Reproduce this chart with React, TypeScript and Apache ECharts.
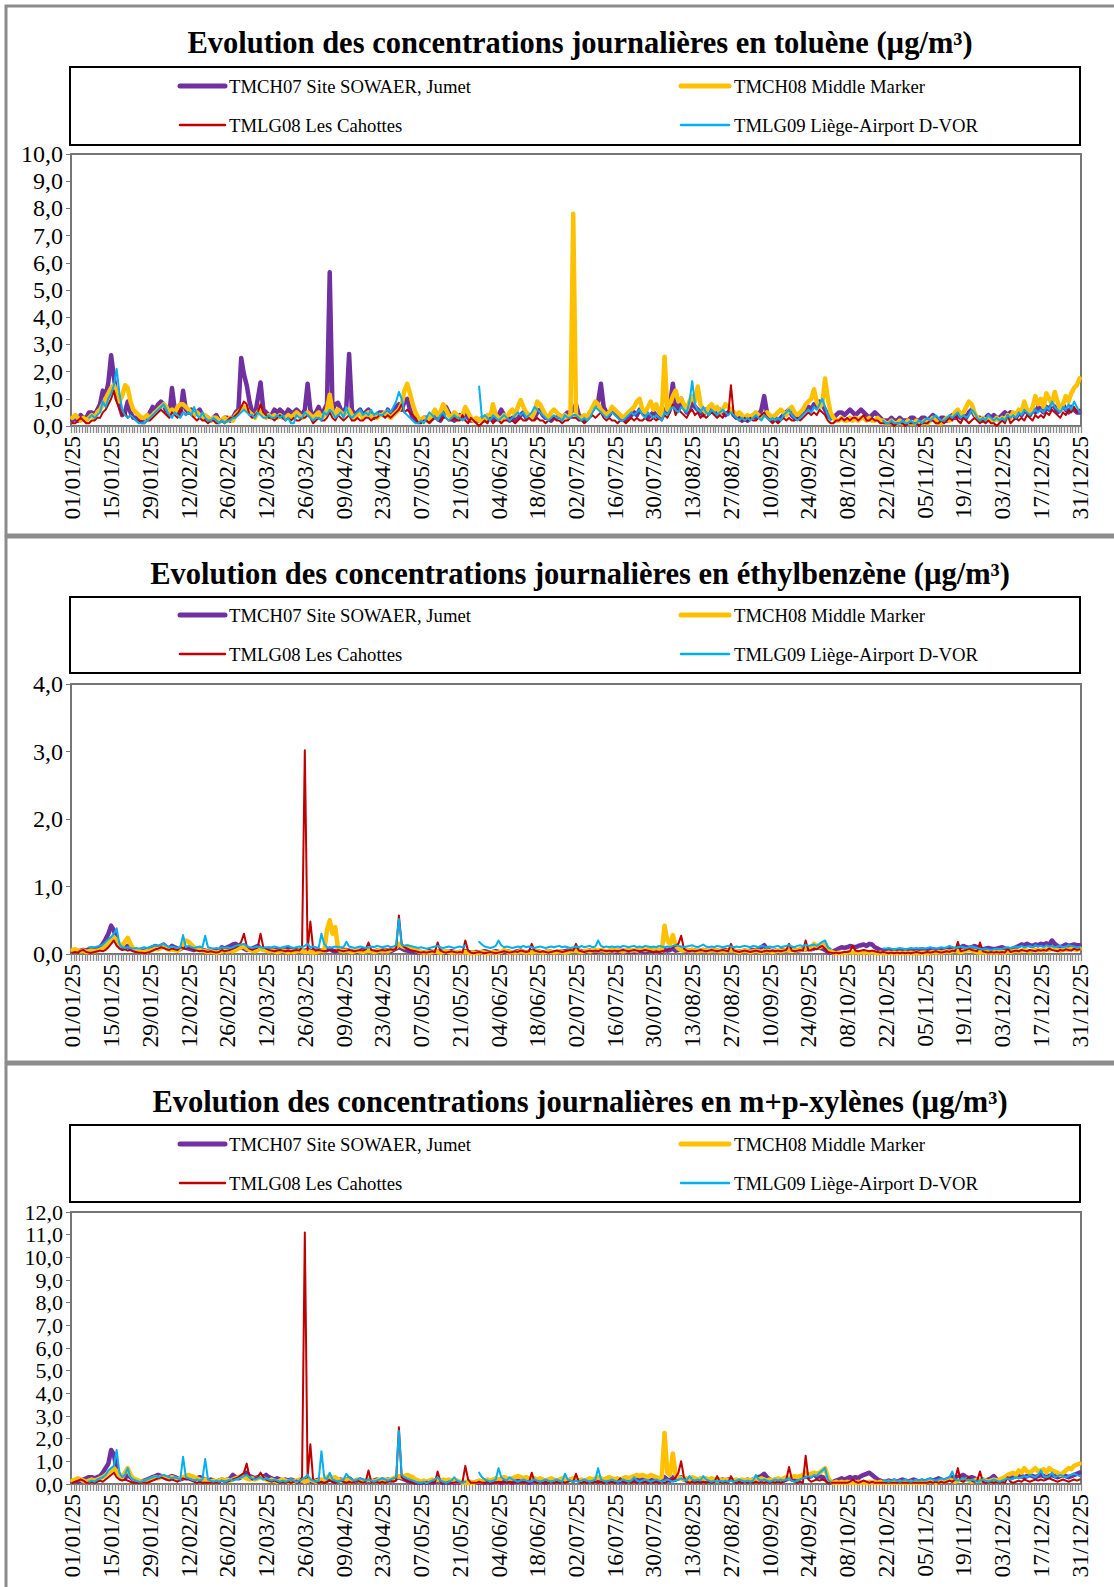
import React, { useEffect, useRef } from 'react';
import * as echarts from 'echarts';

const N = null;

const SERIES_NAMES = ['TMCH07 Site SOWAER, Jumet', 'TMCH08 Middle Marker', 'TMLG08 Les Cahottes', 'TMLG09 Liège-Airport D-VOR'];
const SERIES_COLORS = ['#7030A0', '#FFC000', '#C00000', '#00B0F0'];
const SERIES_WIDTHS = [4.5, 4.5, 2, 2];
const TITLES = [
  'Evolution des concentrations journalières en toluène (µg/m³)',
  'Evolution des concentrations journalières en éthylbenzène (µg/m³)',
  'Evolution des concentrations journalières en m+p-xylènes (µg/m³)',
];
const Y_MAX = [10, 4, 12];

// daily categories 01/01/25 .. 31/12/25
const DAYS: string[] = [];
for (let i = 0; i < 365; i++) {
  const d = new Date(Date.UTC(2025, 0, 1 + i));
  const dd = String(d.getUTCDate()).padStart(2, '0');
  const mm = String(d.getUTCMonth() + 1).padStart(2, '0');
  DAYS.push(`${dd}/${mm}/25`);
}

// ---------- Toluène ----------
const TOL_TMCH07 = [
  0.2,0.3,0.2,0.4,0.3,0.3,0.5,0.5,0.4,0.6,0.8,1.3,1.1,1.6,
  2.6,1.8,1.0,0.8,0.4,0.5,0.9,0.5,0.3,0.3,0.3,0.2,0.3,0.3,
  0.5,0.7,0.6,0.8,0.9,0.8,0.5,0.4,1.4,0.6,0.5,0.4,1.3,0.6,
  0.5,0.6,0.4,0.5,0.6,0.4,0.3,0.3,0.2,0.3,0.4,0.2,0.2,0.3,
  0.3,0.2,0.3,0.5,0.6,2.5,1.9,1.5,0.9,0.5,0.4,1.0,1.6,0.6,
  0.5,0.4,0.4,0.6,0.5,0.6,0.5,0.4,0.6,0.5,0.5,0.6,0.5,0.4,
  0.6,1.55,0.6,0.3,0.5,0.7,0.4,0.6,0.8,5.65,0.6,0.8,0.85,0.6,
  0.5,0.7,2.65,0.6,0.4,0.5,0.6,0.4,0.5,0.6,0.4,0.3,0.4,0.5,
  0.5,0.4,0.6,0.4,0.5,0.7,0.8,0.6,0.9,1.0,0.6,0.3,0.2,0.2,
  0.2,0.3,0.3,0.2,0.3,0.5,0.3,0.2,0.4,0.7,0.5,0.3,0.2,0.3,
  0.4,0.3,0.5,0.3,0.2,0.2,0.2,0.2,0.3,0.2,0.3,0.3,0.2,0.3,
  0.4,0.6,0.4,0.3,0.2,0.3,0.2,0.3,0.4,0.5,0.3,0.4,0.3,0.3,
  0.5,0.6,0.4,0.3,0.3,0.2,0.3,0.3,0.4,0.3,0.4,0.5,0.5,0.6,
  0.8,0.4,0.3,0.2,0.3,0.5,0.6,0.8,0.9,1.55,0.7,0.5,0.4,0.6,
  0.5,0.4,0.3,0.3,0.2,0.3,0.4,0.5,0.4,0.6,0.5,0.4,0.3,0.4,
  0.5,0.4,0.3,0.4,0.6,0.5,0.8,1.55,0.8,0.6,1.0,0.7,0.5,0.6,
  0.9,0.7,0.6,0.5,0.4,0.6,0.5,0.7,0.5,0.4,0.6,0.5,0.4,0.5,
  0.6,0.4,0.3,0.3,0.2,0.3,0.2,0.3,0.4,0.3,0.4,0.6,1.1,0.5,
  0.3,0.2,0.3,0.2,0.3,0.4,0.5,0.6,0.4,0.3,0.3,0.4,0.5,0.6,
  0.7,0.6,0.8,0.7,0.9,0.8,0.6,0.4,0.3,0.3,0.4,0.5,0.5,0.4,
  0.5,0.6,0.5,0.4,0.5,0.6,0.5,0.4,0.3,0.4,0.5,0.4,0.3,0.2,
  0.2,0.2,0.3,0.2,0.2,0.3,0.2,0.2,0.2,0.3,0.3,0.2,0.2,0.3,
  0.3,0.2,0.3,0.4,0.3,0.2,0.3,0.3,0.2,0.3,0.4,0.3,0.4,0.3,
  0.4,0.3,0.5,0.6,0.4,0.3,0.3,0.2,0.3,0.4,0.3,0.4,0.3,0.3,
  0.4,0.5,0.4,0.5,0.4,0.3,0.5,0.4,0.6,0.5,0.4,0.6,0.5,0.7,
  0.6,0.5,0.7,0.6,0.8,0.7,0.5,0.6,0.8,0.6,0.5,0.7,0.6,0.5,
  0.5,
];
const TOL_TMCH08 = [
  0.3,0.4,0.3,0.2,0.3,0.2,0.3,0.4,0.3,0.5,0.6,0.8,1.0,1.2,
  1.4,1.5,1.2,0.9,1.1,1.5,1.4,0.9,0.6,0.5,0.4,0.3,0.3,0.4,
  0.3,0.4,0.5,0.6,0.7,0.8,0.7,0.5,0.6,0.5,0.7,0.8,0.8,0.7,
  0.6,0.5,0.4,0.5,0.4,0.3,0.4,0.3,0.2,0.3,0.3,0.2,0.2,0.3,
  0.2,0.3,0.2,0.4,0.5,0.6,0.7,0.6,0.5,0.4,0.3,0.5,0.6,0.4,
  0.3,0.4,0.3,0.4,0.3,0.4,0.3,0.3,0.4,0.3,0.4,0.5,0.4,0.3,
  0.4,0.5,0.4,0.3,0.4,0.5,0.3,0.4,0.6,1.15,0.5,0.4,0.6,0.5,
  0.4,0.5,0.6,0.4,0.3,0.4,0.5,0.3,0.4,0.5,0.3,0.4,0.3,0.4,
  0.4,0.5,0.4,0.3,0.4,0.5,0.6,0.8,1.3,1.55,1.2,0.8,0.5,0.3,
  0.2,0.3,0.2,0.3,0.4,0.6,0.4,0.5,0.8,0.6,0.4,0.3,0.5,0.4,
  0.3,0.4,0.7,0.5,0.3,0.2,0.3,0.2,0.3,0.2,0.4,0.3,0.8,0.4,
  0.3,0.2,0.4,0.3,0.5,0.6,0.4,0.7,0.95,0.7,0.5,0.4,0.3,0.5,
  0.9,0.8,0.6,0.4,0.3,0.5,0.6,0.5,0.4,0.3,0.4,0.3,0.4,7.8,
  0.4,0.3,0.3,0.4,0.3,0.5,0.7,0.9,0.8,0.6,0.5,0.4,0.5,0.7,
  0.6,0.5,0.4,0.3,0.4,0.5,0.6,0.7,0.9,1.0,0.6,0.5,0.7,0.9,
  0.6,0.8,0.5,0.4,2.55,0.6,0.8,1.1,1.3,0.9,1.0,0.8,0.6,0.9,
  1.1,0.9,1.45,0.8,0.6,0.5,0.7,0.8,0.6,0.7,0.5,0.6,0.8,0.7,
  0.6,0.5,0.4,0.5,0.4,0.3,0.4,0.3,0.4,0.5,0.4,0.3,0.4,0.5,
  0.4,0.3,0.4,0.5,0.6,0.5,0.4,0.6,0.7,0.5,0.4,0.5,0.6,0.8,
  0.9,1.0,1.35,0.9,0.7,0.8,1.75,1.0,0.5,0.3,0.2,0.2,0.3,0.2,
  0.2,0.3,0.2,0.3,0.2,0.3,0.3,0.2,0.3,0.2,0.2,0.3,0.2,0.2,
  0.1,0.1,0.2,0.1,0.1,0.2,0.1,0.1,0.2,0.1,0.1,0.2,0.1,0.1,
  0.2,0.1,0.2,0.3,0.2,0.1,0.1,0.2,0.3,0.2,0.3,0.5,0.6,0.4,
  0.5,0.7,0.9,0.8,0.5,0.3,0.2,0.3,0.2,0.3,0.2,0.2,0.3,0.2,
  0.3,0.2,0.4,0.3,0.5,0.4,0.6,0.5,0.9,0.6,0.5,0.7,1.1,0.8,
  1.0,0.7,1.2,1.0,0.8,1.25,0.9,0.6,0.8,1.1,0.9,1.2,1.4,1.5,
  1.75,
];
const TOL_TMLG08 = [
  0.1,0.1,0.2,0.3,0.2,0.1,0.1,0.2,0.2,0.3,0.3,0.5,0.6,0.8,
  1.0,1.3,0.9,0.6,0.4,0.5,0.3,0.4,0.3,0.2,0.2,0.1,0.1,0.2,
  0.2,0.3,0.4,0.5,0.6,0.5,0.4,0.3,0.5,0.4,0.3,0.6,0.5,0.4,
  0.5,0.4,0.3,0.2,0.3,0.2,0.2,0.1,0.2,0.2,0.1,0.1,0.2,0.1,
  0.2,0.3,0.3,0.4,0.5,0.7,0.9,0.8,0.4,0.3,0.4,0.5,0.8,0.5,
  0.4,0.3,0.3,0.2,0.3,0.4,0.3,0.2,0.3,0.2,0.3,0.2,0.2,0.3,
  0.3,0.4,0.3,0.1,0.2,0.3,0.2,0.2,0.3,0.5,0.3,0.2,0.4,0.3,
  0.2,0.3,0.4,0.2,0.2,0.3,0.2,0.2,0.3,0.3,0.2,0.3,0.3,0.4,
  0.4,0.3,0.4,0.3,0.4,0.5,0.6,0.8,0.5,0.6,0.5,0.4,0.3,0.1,
  0.1,0.2,0.2,0.1,0.2,0.3,0.2,0.2,0.3,0.3,0.2,0.2,0.3,0.2,
  0.2,0.4,0.2,0.1,0.3,0.2,0.1,0.0,0.1,0.2,0.1,0.3,0.1,0.2,
  0.2,0.1,0.2,0.2,0.3,0.2,0.1,0.2,0.3,0.2,0.2,0.3,0.2,0.2,
  0.3,0.2,0.2,0.1,0.2,0.2,0.3,0.2,0.2,0.1,0.2,0.2,0.3,0.3,
  0.3,0.2,0.2,0.1,0.2,0.3,0.4,0.3,0.4,0.5,0.3,0.2,0.3,0.2,
  0.2,0.1,0.2,0.2,0.1,0.2,0.3,0.2,0.3,0.2,0.2,0.3,0.2,0.2,
  0.3,0.2,0.3,0.2,0.4,0.3,0.5,0.8,0.4,0.6,0.5,0.4,0.3,0.5,
  0.6,0.4,0.5,0.3,0.4,0.3,0.4,0.5,0.4,0.3,0.4,0.3,0.5,0.4,
  1.5,0.4,0.3,0.2,0.2,0.3,0.2,0.3,0.2,0.2,0.3,0.4,0.5,0.3,
  0.2,0.1,0.2,0.1,0.2,0.3,0.2,0.3,0.2,0.2,0.3,0.2,0.3,0.4,
  0.5,0.4,0.5,0.4,0.6,0.5,0.4,0.2,0.1,0.1,0.2,0.2,0.3,0.2,
  0.3,0.2,0.3,0.3,0.2,0.3,0.4,0.2,0.2,0.3,0.2,0.2,0.1,0.1,
  0.1,0.1,0.1,0.0,0.1,0.1,0.1,0.0,0.1,0.1,0.1,0.1,0.0,0.1,
  0.1,0.1,0.2,0.2,0.1,0.1,0.2,0.1,0.2,0.3,0.2,0.4,0.2,0.1,
  0.3,0.2,0.1,0.2,0.3,0.2,0.1,0.2,0.1,0.2,0.1,0.1,0.0,0.1,
  0.2,0.1,0.4,0.1,0.2,0.3,0.2,0.3,0.2,0.4,0.3,0.2,0.4,0.3,
  0.4,0.3,0.5,0.4,0.6,0.5,0.4,0.3,0.5,0.4,0.6,0.5,0.7,0.5,
  0.6,
];
const TOL_TMLG09 = [
  N,N,N,N,N,N,0.3,0.4,0.3,0.4,0.5,0.9,0.7,1.0,
  1.2,1.5,2.1,1.2,0.6,0.4,0.3,0.4,0.3,0.2,0.1,0.1,0.1,0.2,
  0.3,0.4,0.5,0.6,0.7,0.8,0.6,0.4,0.3,0.5,0.4,0.3,0.5,0.4,
  0.5,0.4,0.7,0.4,0.3,0.5,0.3,0.2,0.2,0.3,0.2,0.1,0.2,0.1,
  0.2,0.2,0.3,0.3,0.4,0.5,0.6,0.5,0.4,0.4,0.3,0.5,0.4,0.3,
  0.3,0.4,0.3,0.3,0.4,0.3,0.4,0.2,0.3,0.1,0.1,0.4,0.3,0.3,
  0.5,0.4,0.3,0.2,0.3,0.3,0.2,0.5,0.4,0.6,0.5,0.3,0.4,0.5,
  0.3,0.7,0.4,0.3,0.4,0.5,0.6,0.4,0.5,0.4,0.6,0.4,0.5,0.4,
  0.4,0.5,0.6,0.5,0.7,0.9,1.25,1.0,0.5,0.4,0.3,0.2,0.1,0.1,
  0.2,0.1,0.3,0.5,0.4,0.3,0.2,0.4,0.5,0.3,0.2,0.3,0.4,0.3,
  0.3,0.2,0.3,N,N,N,N,1.45,0.3,0.4,0.3,0.2,0.4,0.3,
  0.2,0.3,0.4,0.3,0.2,0.3,0.4,0.5,0.4,0.5,0.3,0.4,0.5,0.7,
  0.6,0.5,0.4,0.3,0.2,0.3,0.4,0.3,0.3,0.2,0.4,0.3,0.3,0.4,
  0.4,0.3,0.2,0.3,0.2,0.3,0.5,0.7,0.6,0.5,0.4,0.3,0.4,0.5,
  0.4,0.3,0.2,0.2,0.3,0.4,0.5,0.4,0.5,0.6,0.4,0.3,0.5,0.4,
  0.3,0.4,0.3,0.2,0.5,0.4,0.6,0.7,0.6,0.5,0.7,0.6,0.5,0.9,
  1.65,0.8,0.6,0.5,0.7,0.5,0.4,0.6,0.5,0.4,0.5,0.6,0.5,0.4,
  0.5,0.4,0.3,0.2,0.3,0.2,0.3,0.2,0.3,0.4,0.3,0.2,0.4,0.3,
  0.2,0.3,0.2,0.3,0.2,0.4,0.5,0.6,0.4,0.3,0.2,0.3,0.4,0.5,
  0.6,0.5,0.7,0.6,0.8,1.0,0.7,0.4,0.2,N,N,N,N,N,
  N,N,N,N,N,N,N,N,N,N,N,N,N,0.2,
  0.1,0.1,0.2,0.1,0.1,0.1,0.2,0.1,0.1,0.2,0.1,0.1,0.2,0.1,
  0.2,0.3,0.2,0.3,0.4,0.3,0.2,0.2,0.3,0.4,0.3,0.4,0.5,0.3,
  0.4,0.3,0.4,0.6,0.5,0.3,0.2,0.3,0.2,0.4,0.3,0.2,0.3,0.2,
  0.3,0.2,0.4,0.3,0.4,0.3,0.5,0.4,0.6,0.5,0.4,0.5,0.6,0.5,
  0.6,0.5,0.7,0.6,0.9,0.7,0.6,0.5,0.7,0.6,0.8,0.6,0.9,0.7,
  0.5,
];

// ---------- Éthylbenzène ----------
const ETH_TMCH07 = [
  0.05,0.06,0.04,0.05,0.06,0.05,0.07,0.08,0.06,0.08,0.1,0.15,0.22,0.3,
  0.42,0.35,0.2,0.12,0.08,0.09,0.12,0.08,0.06,0.05,0.05,0.04,0.05,0.06,
  0.08,0.1,0.12,0.1,0.12,0.14,0.1,0.08,0.12,0.1,0.08,0.07,0.1,0.09,
  0.08,0.07,0.06,0.08,0.07,0.06,0.05,0.04,0.05,0.06,0.04,0.05,0.1,0.08,
  0.1,0.12,0.14,0.15,0.12,0.1,0.08,0.06,0.07,0.08,0.1,0.12,0.08,0.07,
  0.06,0.08,0.06,0.05,0.07,0.06,0.05,0.06,0.08,0.07,0.05,0.06,0.05,0.04,
  0.05,0.06,0.05,0.04,0.05,0.06,0.05,0.04,0.06,0.08,0.05,0.04,0.05,0.06,
  0.05,0.06,0.05,0.04,0.03,0.04,0.05,0.06,0.04,0.05,0.04,0.03,0.05,0.04,
  0.05,0.06,0.05,0.04,0.06,0.08,0.1,0.08,0.06,0.05,0.04,0.03,0.03,0.02,
  0.03,0.02,0.03,0.04,0.03,0.02,0.03,0.04,0.03,0.02,0.03,0.04,0.03,0.02,
  0.03,0.02,0.04,0.03,0.02,0.02,0.03,0.02,0.03,0.04,0.03,0.02,0.03,0.04,
  0.03,0.02,0.03,0.04,0.03,0.02,0.03,0.04,0.05,0.03,0.02,0.03,0.04,0.03,
  0.04,0.03,0.02,0.03,0.04,0.03,0.02,0.03,0.04,0.03,0.04,0.05,0.04,0.05,
  0.06,0.05,0.04,0.03,0.04,0.05,0.04,0.03,0.04,0.05,0.04,0.03,0.04,0.05,
  0.04,0.03,0.04,0.05,0.04,0.03,0.04,0.03,0.04,0.05,0.04,0.03,0.04,0.05,
  0.04,0.05,0.04,0.03,0.06,0.05,0.06,0.08,0.05,0.06,0.07,0.05,0.04,0.05,
  0.06,0.05,0.04,0.05,0.06,0.05,0.04,0.05,0.06,0.05,0.04,0.05,0.06,0.05,
  0.06,0.05,0.04,0.03,0.04,0.05,0.04,0.05,0.06,0.05,0.08,0.1,0.13,0.08,
  0.05,0.04,0.05,0.04,0.05,0.06,0.05,0.06,0.07,0.06,0.05,0.06,0.08,0.07,
  0.08,0.07,0.08,0.1,0.09,0.08,0.06,0.03,0.02,0.04,0.06,0.08,0.1,0.09,
  0.1,0.12,0.11,0.1,0.12,0.13,0.14,0.12,0.15,0.14,0.1,0.08,0.06,0.05,
  0.04,0.05,0.04,0.05,0.04,0.05,0.06,0.05,0.04,0.05,0.06,0.05,0.06,0.07,
  0.06,0.05,0.06,0.07,0.06,0.05,0.06,0.07,0.06,0.07,0.08,0.07,0.08,0.1,
  0.12,0.1,0.09,0.1,0.12,0.1,0.08,0.07,0.08,0.09,0.08,0.07,0.08,0.09,
  0.1,0.08,0.07,0.06,0.08,0.1,0.12,0.14,0.13,0.15,0.13,0.12,0.14,0.13,
  0.15,0.14,0.16,0.13,0.2,0.15,0.12,0.1,0.12,0.14,0.12,0.13,0.14,0.13,
  0.13,
];
const ETH_TMCH08 = [
  0.06,0.07,0.05,0.04,0.05,0.03,0.04,0.05,0.04,0.05,0.06,0.08,0.12,0.18,
  0.22,0.25,0.2,0.15,0.12,0.18,0.24,0.15,0.08,0.06,0.04,0.03,0.03,0.04,
  0.05,0.06,0.08,0.07,0.09,0.1,0.08,0.06,0.07,0.06,0.05,0.08,0.15,0.2,
  0.18,0.14,0.1,0.08,0.06,0.05,0.04,0.03,0.04,0.03,0.02,0.03,0.04,0.05,
  0.04,0.05,0.04,0.06,0.08,0.1,0.12,0.08,0.06,0.05,0.04,0.06,0.08,0.06,
  0.05,0.04,0.05,0.04,0.03,0.04,0.05,0.04,0.03,0.04,0.03,0.04,0.05,0.04,
  0.03,0.04,0.03,0.02,0.03,0.04,0.05,0.04,0.35,0.5,0.3,0.4,0.08,0.05,
  0.04,0.05,0.04,0.03,0.04,0.05,0.04,0.03,0.04,0.05,0.04,0.03,0.04,0.05,
  0.04,0.05,0.04,0.06,0.08,0.1,0.15,0.12,0.1,0.12,0.1,0.08,0.06,0.04,
  0.03,0.02,0.03,0.02,0.03,0.04,0.03,0.02,0.03,0.04,0.03,0.02,0.03,0.02,
  0.03,0.02,0.03,0.02,0.01,0.02,0.01,0.02,0.03,0.02,0.01,0.02,0.03,0.02,
  0.02,0.03,0.06,0.04,0.02,0.03,0.02,0.03,0.04,0.03,0.02,0.03,0.02,0.03,
  0.04,0.03,0.02,0.03,0.04,0.03,0.02,0.03,0.04,0.03,0.02,0.03,0.04,0.05,
  0.05,0.04,0.03,0.04,0.05,0.04,0.05,0.06,0.05,0.06,0.05,0.04,0.05,0.06,
  0.05,0.06,0.05,0.04,0.05,0.06,0.05,0.06,0.05,0.07,0.08,0.06,0.07,0.08,
  0.07,0.08,0.06,0.05,0.42,0.2,0.15,0.28,0.12,0.08,0.06,0.05,0.06,0.05,
  0.06,0.05,0.04,0.05,0.06,0.05,0.04,0.05,0.06,0.05,0.04,0.05,0.04,0.05,
  0.06,0.05,0.04,0.03,0.04,0.05,0.04,0.03,0.04,0.05,0.04,0.03,0.04,0.05,
  0.04,0.03,0.04,0.05,0.04,0.05,0.06,0.05,0.06,0.05,0.06,0.07,0.06,0.08,
  0.1,0.08,0.15,0.12,0.1,0.12,0.16,0.08,0.04,0.02,0.01,0.02,0.01,0.02,
  0.02,0.03,0.02,0.03,0.02,0.03,0.02,0.03,0.02,0.03,0.02,0.01,0.02,0.01,
  0.01,0.02,0.01,0.02,0.01,0.02,0.01,0.02,0.01,0.02,0.01,0.02,0.01,0.02,
  0.02,0.01,0.02,0.03,0.02,0.03,0.02,0.03,0.04,0.03,0.04,0.05,0.04,0.03,
  0.04,0.05,0.06,0.05,0.04,0.03,0.02,0.03,0.02,0.03,0.02,0.03,0.02,0.03,
  0.03,0.02,0.04,0.03,0.04,0.05,0.04,0.05,0.06,0.05,0.04,0.05,0.06,0.05,
  0.06,0.05,0.07,0.06,0.08,0.07,0.06,0.05,0.06,0.07,0.06,0.08,0.07,0.06,
  0.08,
];
const ETH_TMLG08 = [
  0.02,0.03,0.02,0.05,0.06,0.03,0.02,0.02,0.03,0.04,0.05,0.04,0.06,0.1,
  0.15,0.2,0.12,0.08,0.06,0.07,0.05,0.06,0.04,0.03,0.02,0.02,0.01,0.02,
  0.03,0.05,0.07,0.08,0.1,0.09,0.07,0.06,0.08,0.07,0.06,0.1,0.09,0.08,
  0.1,0.08,0.06,0.05,0.04,0.05,0.04,0.03,0.04,0.03,0.02,0.03,0.06,0.04,
  0.05,0.06,0.08,0.1,0.12,0.18,0.3,0.12,0.08,0.06,0.08,0.1,0.3,0.1,
  0.08,0.06,0.05,0.04,0.05,0.06,0.05,0.04,0.05,0.04,0.05,0.06,0.05,0.1,
  3.02,0.06,0.48,0.08,0.05,0.06,0.05,0.04,0.05,0.06,0.05,0.04,0.06,0.05,
  0.04,0.05,0.06,0.05,0.04,0.05,0.06,0.05,0.07,0.17,0.06,0.05,0.04,0.05,
  0.06,0.05,0.06,0.07,0.06,0.08,0.57,0.15,0.1,0.08,0.06,0.05,0.04,0.03,
  0.02,0.03,0.02,0.03,0.04,0.03,0.17,0.05,0.03,0.02,0.03,0.04,0.03,0.02,
  0.03,0.02,0.2,0.05,0.02,0.01,0.02,0.03,0.02,0.01,0.02,0.03,0.02,0.01,
  0.02,0.03,0.04,0.03,0.02,0.03,0.04,0.03,0.05,0.04,0.03,0.04,0.15,0.05,
  0.04,0.03,0.04,0.03,0.02,0.03,0.04,0.05,0.04,0.03,0.04,0.05,0.06,0.05,
  0.15,0.05,0.04,0.03,0.04,0.05,0.04,0.05,0.04,0.06,0.05,0.04,0.05,0.04,
  0.05,0.04,0.05,0.06,0.05,0.04,0.05,0.06,0.05,0.04,0.05,0.06,0.05,0.04,
  0.03,0.04,0.03,0.04,0.05,0.06,0.08,0.1,0.12,0.15,0.27,0.08,0.05,0.04,
  0.05,0.04,0.05,0.06,0.05,0.04,0.05,0.06,0.05,0.04,0.05,0.06,0.05,0.04,
  0.15,0.05,0.04,0.03,0.04,0.05,0.04,0.03,0.04,0.05,0.04,0.03,0.04,0.05,
  0.04,0.05,0.04,0.05,0.04,0.05,0.06,0.15,0.05,0.04,0.05,0.06,0.05,0.2,
  0.05,0.06,0.08,0.07,0.1,0.12,0.08,0.03,0.02,0.01,0.02,0.01,0.02,0.03,
  0.03,0.04,0.12,0.05,0.04,0.05,0.06,0.05,0.04,0.05,0.04,0.03,0.02,0.03,
  0.02,0.01,0.02,0.01,0.02,0.01,0.02,0.01,0.02,0.01,0.02,0.03,0.02,0.01,
  0.02,0.03,0.02,0.03,0.04,0.03,0.02,0.03,0.04,0.03,0.05,0.04,0.18,0.04,
  0.05,0.06,0.08,0.06,0.05,0.04,0.17,0.04,0.03,0.02,0.03,0.02,0.03,0.02,
  0.03,0.02,0.08,0.03,0.04,0.05,0.04,0.06,0.05,0.04,0.06,0.05,0.04,0.06,
  0.05,0.06,0.05,0.08,0.06,0.05,0.04,0.06,0.05,0.07,0.06,0.05,0.08,0.06,
  0.07,
];
const ETH_TMLG09 = [
  N,N,N,N,N,N,0.1,0.1,0.1,0.11,0.12,0.14,0.18,0.22,
  0.25,0.3,0.38,0.15,0.1,0.09,0.1,0.09,0.08,0.09,0.08,0.09,0.1,0.09,
  0.1,0.12,0.13,0.12,0.14,0.15,0.12,0.1,0.11,0.1,0.09,0.1,0.28,0.1,
  0.12,0.1,0.09,0.1,0.11,0.1,0.27,0.1,0.09,0.08,0.09,0.08,0.1,0.09,
  0.1,0.09,0.1,0.12,0.13,0.14,0.15,0.12,0.1,0.09,0.1,0.11,0.1,0.09,
  0.1,0.09,0.1,0.11,0.1,0.09,0.1,0.11,0.12,0.1,0.09,0.1,0.11,0.1,
  0.12,0.15,0.1,0.11,0.1,0.09,0.3,0.15,0.1,0.09,0.1,0.11,0.1,0.1,
  0.1,0.18,0.11,0.1,0.09,0.1,0.11,0.1,0.09,0.1,0.11,0.1,0.12,0.11,
  0.1,0.11,0.12,0.1,0.11,0.13,0.52,0.14,0.12,0.13,0.12,0.11,0.1,0.09,
  0.1,0.09,0.08,0.09,0.1,0.11,0.12,0.1,0.09,0.1,0.11,0.1,0.09,0.1,
  0.11,0.1,0.13,N,N,N,N,0.18,0.14,0.11,0.1,0.09,0.1,0.12,
  0.2,0.13,0.1,0.11,0.1,0.09,0.1,0.11,0.1,0.12,0.1,0.11,0.1,0.09,
  0.1,0.11,0.1,0.09,0.1,0.11,0.1,0.11,0.12,0.1,0.11,0.1,0.09,0.1,
  0.11,0.1,0.12,0.1,0.11,0.12,0.1,0.11,0.2,0.12,0.1,0.11,0.1,0.11,
  0.1,0.11,0.1,0.12,0.11,0.1,0.11,0.12,0.1,0.11,0.1,0.12,0.11,0.1,
  0.11,0.1,0.12,0.11,0.1,0.11,0.1,0.12,0.13,0.12,0.11,0.1,0.11,0.12,
  0.13,0.11,0.1,0.12,0.14,0.11,0.1,0.11,0.1,0.12,0.11,0.1,0.11,0.12,
  0.11,0.1,0.11,0.1,0.11,0.12,0.11,0.1,0.12,0.11,0.1,0.12,0.11,0.1,
  0.11,0.1,0.11,0.12,0.1,0.11,0.12,0.13,0.11,0.1,0.12,0.13,0.11,0.14,
  0.12,0.13,0.14,0.12,0.15,0.18,0.2,0.1,0.08,N,N,N,N,N,
  N,N,N,N,N,N,N,N,N,N,N,N,N,0.08,
  0.08,0.09,0.08,0.07,0.08,0.09,0.08,0.07,0.08,0.09,0.08,0.09,0.08,0.09,
  0.08,0.09,0.1,0.09,0.08,0.09,0.1,0.09,0.1,0.12,0.1,0.09,0.1,0.11,
  0.1,0.09,0.1,0.11,0.1,0.09,0.08,0.07,0.08,0.07,0.06,0.07,0.08,0.07,
  0.08,0.09,0.1,0.09,0.1,0.11,0.1,0.12,0.1,0.11,0.12,0.1,0.13,0.11,
  0.12,0.1,0.13,0.11,0.12,0.1,0.11,0.12,0.1,0.11,0.13,0.12,0.11,0.1,
  0.1,
];

// ---------- m+p-xylènes ----------
const XYL_TMCH07 = [
  0.1,0.15,0.1,0.15,0.2,0.25,0.3,0.3,0.25,0.3,0.35,0.5,0.7,0.9,
  1.5,1.3,0.6,0.4,0.3,0.25,0.4,0.3,0.2,0.15,0.1,0.1,0.15,0.2,
  0.25,0.3,0.35,0.4,0.35,0.3,0.25,0.3,0.35,0.3,0.25,0.2,0.25,0.3,
  0.3,0.25,0.2,0.25,0.3,0.25,0.2,0.15,0.2,0.15,0.1,0.15,0.2,0.15,
  0.2,0.25,0.4,0.3,0.25,0.3,0.4,0.5,0.35,0.3,0.25,0.3,0.35,0.3,
  0.4,0.3,0.25,0.2,0.25,0.2,0.15,0.2,0.15,0.2,0.15,0.1,0.15,0.1,
  0.15,0.2,0.15,0.1,0.15,0.2,0.15,0.1,0.15,0.25,0.15,0.1,0.15,0.2,
  0.15,0.2,0.25,0.15,0.1,0.15,0.2,0.15,0.1,0.15,0.1,0.15,0.2,0.15,
  0.2,0.15,0.2,0.15,0.2,0.25,0.3,0.25,0.2,0.15,0.1,0.1,0.05,0.05,
  0.05,0.1,0.05,0.1,0.05,0.1,0.15,0.1,0.05,0.1,0.05,0.1,0.05,0.1,
  0.05,0.1,0.05,0.1,0.05,0.05,0.1,0.05,0.1,0.05,0.1,0.05,0.1,0.15,
  0.1,0.05,0.1,0.15,0.1,0.05,0.1,0.15,0.1,0.15,0.1,0.05,0.1,0.15,
  0.1,0.15,0.1,0.05,0.1,0.15,0.1,0.15,0.1,0.15,0.2,0.15,0.2,0.15,
  0.2,0.15,0.1,0.15,0.1,0.15,0.2,0.15,0.2,0.15,0.1,0.15,0.2,0.15,
  0.1,0.15,0.1,0.15,0.1,0.15,0.2,0.15,0.2,0.15,0.2,0.15,0.1,0.15,
  0.2,0.15,0.1,0.15,0.3,0.2,0.15,0.3,0.2,0.25,0.3,0.2,0.15,0.2,
  0.25,0.2,0.15,0.2,0.15,0.2,0.15,0.2,0.15,0.2,0.15,0.2,0.15,0.2,
  0.2,0.15,0.1,0.15,0.1,0.15,0.2,0.15,0.2,0.25,0.3,0.35,0.45,0.3,
  0.2,0.15,0.2,0.15,0.2,0.15,0.2,0.25,0.2,0.25,0.2,0.25,0.3,0.35,
  0.3,0.35,0.45,0.3,0.35,0.3,0.25,0.1,0.05,0.1,0.15,0.2,0.25,0.2,
  0.25,0.3,0.25,0.3,0.25,0.35,0.4,0.45,0.5,0.4,0.3,0.2,0.15,0.1,
  0.1,0.15,0.1,0.15,0.1,0.15,0.2,0.15,0.1,0.15,0.2,0.15,0.1,0.15,
  0.1,0.15,0.2,0.15,0.2,0.25,0.2,0.15,0.2,0.25,0.3,0.25,0.3,0.35,
  0.4,0.3,0.25,0.3,0.25,0.2,0.15,0.2,0.15,0.2,0.25,0.35,0.2,0.15,
  0.2,0.25,0.3,0.25,0.3,0.35,0.5,0.35,0.3,0.35,0.4,0.35,0.3,0.35,
  0.4,0.35,0.3,0.35,0.4,0.35,0.3,0.35,0.4,0.35,0.3,0.35,0.4,0.45,
  0.5,
];
const XYL_TMCH08 = [
  0.15,0.2,0.25,0.2,0.15,0.1,0.15,0.2,0.15,0.2,0.25,0.3,0.4,0.5,
  0.6,0.7,0.55,0.4,0.3,0.5,0.7,0.4,0.25,0.2,0.15,0.1,0.1,0.15,
  0.2,0.25,0.3,0.25,0.3,0.35,0.3,0.25,0.3,0.25,0.2,0.25,0.3,0.35,
  0.4,0.35,0.3,0.25,0.2,0.15,0.2,0.15,0.1,0.15,0.1,0.15,0.2,0.15,
  0.2,0.15,0.2,0.25,0.3,0.35,0.3,0.25,0.2,0.25,0.2,0.25,0.3,0.25,
  0.2,0.15,0.2,0.15,0.1,0.15,0.2,0.15,0.1,0.15,0.1,0.15,0.2,0.15,
  0.1,0.15,0.2,0.15,0.1,0.15,0.2,0.15,0.3,0.35,0.25,0.3,0.2,0.15,
  0.15,0.2,0.15,0.1,0.15,0.2,0.15,0.1,0.15,0.2,0.15,0.1,0.15,0.2,
  0.15,0.2,0.15,0.2,0.25,0.3,0.35,0.3,0.35,0.4,0.35,0.3,0.2,0.15,
  0.1,0.15,0.1,0.15,0.2,0.15,0.2,0.15,0.2,0.15,0.2,0.15,0.1,0.15,
  0.1,0.05,0.1,0.05,0.1,0.05,0.1,0.15,0.1,0.15,0.2,0.15,0.2,0.25,
  0.2,0.25,0.3,0.25,0.2,0.25,0.3,0.35,0.3,0.25,0.3,0.25,0.2,0.25,
  0.2,0.25,0.2,0.15,0.2,0.25,0.2,0.15,0.2,0.25,0.2,0.15,0.2,0.25,
  0.2,0.15,0.2,0.15,0.2,0.25,0.2,0.25,0.3,0.25,0.2,0.25,0.3,0.25,
  0.2,0.25,0.2,0.25,0.3,0.25,0.3,0.35,0.4,0.35,0.4,0.35,0.3,0.4,
  0.35,0.3,0.25,0.3,2.25,0.5,0.4,1.35,0.4,0.3,0.25,0.2,0.25,0.2,
  0.3,0.25,0.2,0.25,0.2,0.25,0.2,0.25,0.2,0.15,0.2,0.15,0.2,0.15,
  0.2,0.15,0.2,0.15,0.2,0.15,0.2,0.15,0.2,0.25,0.2,0.25,0.2,0.15,
  0.2,0.15,0.2,0.25,0.2,0.25,0.3,0.25,0.3,0.35,0.3,0.35,0.4,0.5,
  0.4,0.45,0.5,0.45,0.5,0.6,0.7,0.3,0.1,0.05,0.1,0.05,0.1,0.05,
  0.1,0.05,0.1,0.05,0.1,0.05,0.1,0.05,0.1,0.05,0.1,0.05,0.1,0.05,
  0.05,0.1,0.05,0.1,0.05,0.1,0.05,0.1,0.05,0.1,0.05,0.1,0.05,0.1,
  0.05,0.1,0.15,0.1,0.05,0.1,0.15,0.1,0.15,0.2,0.15,0.1,0.15,0.2,
  0.15,0.2,0.15,0.1,0.15,0.2,0.15,0.2,0.15,0.1,0.15,0.2,0.15,0.2,
  0.25,0.3,0.4,0.45,0.5,0.4,0.6,0.5,0.7,0.55,0.5,0.6,0.7,0.55,
  0.6,0.65,0.5,0.7,0.6,0.55,0.5,0.4,0.5,0.6,0.7,0.65,0.8,0.85,
  0.9,
];
const XYL_TMLG08 = [
  0.05,0.1,0.15,0.2,0.15,0.05,0.05,0.1,0.05,0.1,0.15,0.1,0.2,0.3,
  0.4,0.5,0.3,0.2,0.15,0.2,0.15,0.1,0.05,0.05,0.05,0.05,0.05,0.05,
  0.1,0.15,0.2,0.25,0.3,0.25,0.2,0.15,0.2,0.15,0.1,0.2,0.25,0.2,
  0.2,0.15,0.1,0.05,0.1,0.05,0.05,0.05,0.05,0.05,0.05,0.05,0.15,0.1,
  0.1,0.15,0.2,0.25,0.3,0.4,0.5,0.9,0.3,0.2,0.25,0.3,0.5,0.3,
  0.2,0.15,0.1,0.15,0.1,0.05,0.1,0.05,0.1,0.05,0.1,0.15,0.1,0.3,
  11.1,0.3,1.75,0.2,0.1,0.05,0.1,0.05,0.1,0.15,0.1,0.05,0.1,0.15,
  0.1,0.05,0.1,0.05,0.1,0.15,0.1,0.05,0.1,0.6,0.1,0.05,0.1,0.05,
  0.1,0.05,0.1,0.15,0.1,0.15,2.5,0.3,0.2,0.15,0.1,0.05,0.05,0.05,
  0.05,0.05,0.1,0.05,0.1,0.05,0.55,0.1,0.05,0.05,0.1,0.05,0.05,0.1,
  0.05,0.1,0.8,0.2,0.05,0.05,0.05,0.1,0.05,0.05,0.1,0.05,0.05,0.05,
  0.1,0.05,0.1,0.05,0.1,0.05,0.1,0.05,0.1,0.05,0.1,0.05,0.5,0.1,
  0.05,0.1,0.05,0.1,0.05,0.1,0.05,0.1,0.05,0.1,0.05,0.1,0.15,0.1,
  0.45,0.1,0.05,0.1,0.05,0.1,0.05,0.1,0.05,0.1,0.05,0.1,0.05,0.1,
  0.05,0.1,0.25,0.1,0.05,0.1,0.05,0.1,0.05,0.1,0.05,0.1,0.05,0.1,
  0.05,0.1,0.05,0.1,0.05,0.1,0.15,0.2,0.3,0.5,1.0,0.3,0.1,0.05,
  0.1,0.05,0.1,0.05,0.1,0.05,0.1,0.05,0.1,0.35,0.1,0.05,0.1,0.05,
  0.35,0.1,0.05,0.1,0.05,0.1,0.05,0.1,0.05,0.1,0.05,0.1,0.05,0.1,
  0.05,0.1,0.05,0.1,0.05,0.1,0.2,0.75,0.2,0.1,0.05,0.1,0.05,1.25,
  0.2,0.1,0.15,0.2,0.15,0.2,0.15,0.05,0.05,0.05,0.05,0.05,0.05,0.05,
  0.05,0.1,0.2,0.1,0.05,0.1,0.15,0.1,0.05,0.1,0.05,0.05,0.05,0.05,
  0.05,0.05,0.05,0.05,0.05,0.05,0.05,0.05,0.05,0.05,0.05,0.05,0.05,0.05,
  0.05,0.05,0.1,0.05,0.1,0.05,0.1,0.05,0.1,0.15,0.1,0.2,0.7,0.15,
  0.1,0.2,0.3,0.15,0.1,0.15,0.55,0.1,0.05,0.05,0.1,0.05,0.1,0.05,
  0.1,0.05,0.3,0.1,0.05,0.1,0.15,0.1,0.2,0.15,0.1,0.15,0.2,0.15,
  0.2,0.15,0.2,0.25,0.2,0.15,0.1,0.15,0.2,0.15,0.1,0.15,0.2,0.15,
  0.2,
];
const XYL_TMLG09 = [
  N,N,N,N,N,N,0.1,0.15,0.1,0.2,0.25,0.3,0.4,0.6,
  0.7,0.8,1.5,0.5,0.3,0.4,0.7,0.3,0.2,0.15,0.1,0.1,0.15,0.2,
  0.25,0.3,0.35,0.3,0.35,0.4,0.35,0.3,0.25,0.3,0.25,0.2,1.2,0.3,
  0.25,0.2,0.15,0.2,0.15,0.2,1.1,0.2,0.15,0.1,0.15,0.1,0.15,0.1,
  0.15,0.2,0.15,0.2,0.25,0.3,0.35,0.4,0.3,0.25,0.2,0.25,0.3,0.2,
  0.25,0.2,0.15,0.2,0.15,0.1,0.15,0.1,0.15,0.2,0.15,0.1,0.15,0.2,
  0.3,0.4,0.2,0.15,0.1,0.15,1.45,0.3,0.2,0.5,0.2,0.15,0.1,0.15,
  0.2,0.45,0.3,0.2,0.15,0.2,0.25,0.2,0.15,0.2,0.15,0.1,0.15,0.2,
  0.25,0.2,0.15,0.2,0.25,0.3,2.35,0.4,0.3,0.25,0.2,0.15,0.1,0.05,
  0.05,0.1,0.05,0.1,0.15,0.2,0.3,0.15,0.1,0.05,0.1,0.15,0.3,0.15,
  0.1,0.05,0.1,N,N,N,N,0.5,0.3,0.2,0.15,0.1,0.15,0.2,
  0.7,0.3,0.2,0.15,0.3,0.2,0.15,0.1,0.15,0.2,0.15,0.1,0.15,0.2,
  0.15,0.1,0.15,0.2,0.15,0.1,0.15,0.2,0.15,0.1,0.45,0.2,0.15,0.1,
  0.15,0.1,0.15,0.2,0.15,0.1,0.15,0.2,0.7,0.2,0.15,0.1,0.15,0.2,
  0.15,0.1,0.15,0.2,0.15,0.1,0.15,0.3,0.15,0.1,0.15,0.2,0.15,0.1,
  0.15,0.2,0.15,0.1,0.15,0.2,0.15,0.1,0.15,0.2,0.25,0.2,0.15,0.35,
  0.2,0.15,0.2,0.15,0.35,0.2,0.15,0.1,0.15,0.1,0.15,0.1,0.15,0.1,
  0.15,0.1,0.15,0.2,0.15,0.1,0.15,0.1,0.15,0.4,0.2,0.15,0.2,0.15,
  0.1,0.15,0.2,0.15,0.2,0.15,0.2,0.25,0.15,0.1,0.15,0.2,0.25,0.3,
  0.35,0.3,0.4,0.35,0.5,0.6,0.7,0.2,0.1,N,N,N,N,N,
  N,N,N,N,N,N,N,N,N,N,N,N,N,0.15,
  0.15,0.1,0.15,0.2,0.15,0.1,0.15,0.2,0.15,0.1,0.15,0.2,0.15,0.2,
  0.15,0.2,0.25,0.2,0.15,0.2,0.25,0.2,0.25,0.3,0.55,0.2,0.15,0.2,
  0.25,0.2,0.15,0.2,0.15,0.1,0.15,0.2,0.15,0.1,0.15,0.2,0.15,0.1,
  0.15,0.2,0.25,0.2,0.25,0.3,0.25,0.3,0.35,0.3,0.4,0.35,0.3,0.4,
  0.6,0.35,0.3,0.35,0.5,0.3,0.35,0.4,0.35,0.3,0.35,0.4,0.45,0.4,
  0.35,
];

const PANEL_DATA = [
  [TOL_TMCH07, TOL_TMCH08, TOL_TMLG08, TOL_TMLG09],
  [ETH_TMCH07, ETH_TMCH08, ETH_TMLG08, ETH_TMLG09],
  [XYL_TMCH07, XYL_TMCH08, XYL_TMLG08, XYL_TMLG09],
];

// layout (px)
const PANELS = [
  { frameTop: 6, frameBottom: 535, titleY: 43, boxTop: 67, boxBottom: 145, row1: 86, row2: 125, gridTop: 154, gridBottom: 426, yFont: 24, yLine: 24 },
  { frameTop: 537, frameBottom: 1062, titleY: 574, boxTop: 597, boxBottom: 673, row1: 615, row2: 654, gridTop: 684, gridBottom: 954, yFont: 24, yLine: 24 },
  { frameTop: 1064, frameBottom: 1620, titleY: 1102, boxTop: 1125, boxBottom: 1202, row1: 1144, row2: 1183, gridTop: 1212, gridBottom: 1484, yFont: 22, yLine: 19 },
];
const GRID_LEFT = 71;
const GRID_RIGHT = 1081;
const SERIF = '"Liberation Serif", "Times New Roman", serif';
const AXIS_GREY = '#767676';

export default function App() {
  const ref = useRef<HTMLDivElement>(null);

  useEffect(() => {
    if (!ref.current) return;
    const chart = echarts.init(ref.current, null, { renderer: 'svg' });

    const grids: any[] = [];
    const xAxes: any[] = [];
    const yAxes: any[] = [];
    const series: any[] = [];
    const graphics: any[] = [];

    PANELS.forEach((p, i) => {
      grids.push({
        left: GRID_LEFT,
        top: p.gridTop,
        width: GRID_RIGHT - GRID_LEFT,
        height: p.gridBottom - p.gridTop,
        show: true,
        borderColor: AXIS_GREY,
        borderWidth: 2,
        backgroundColor: 'transparent',
        containLabel: false,
      });
      xAxes.push({
        type: 'category',
        gridIndex: i,
        data: DAYS,
        boundaryGap: true,
        axisLine: { show: true, lineStyle: { color: AXIS_GREY, width: 2 } },
        axisTick: { show: true, interval: 0, length: 7, lineStyle: { color: '#8a8a8a', width: 1.3 } },
        axisLabel: {
          interval: 13,
          rotate: 90,
          margin: 10,
          fontFamily: SERIF,
          fontSize: 23.5,
          color: '#000',
        },
        splitLine: { show: false },
      });
      yAxes.push({
        type: 'value',
        gridIndex: i,
        min: 0,
        max: Y_MAX[i],
        interval: 1,
        axisLine: { show: true, lineStyle: { color: AXIS_GREY, width: 2 } },
        axisTick: { show: true, length: 5, lineStyle: { color: AXIS_GREY, width: 1 } },
        splitLine: { show: false },
        axisLabel: {
          formatter: (v: number) => v.toFixed(1).replace('.', ','),
          fontFamily: SERIF,
          fontSize: p.yFont,
          lineHeight: p.yLine,
          color: '#000',
          margin: 8,
          showMinLabel: true,
          showMaxLabel: true,
          hideOverlap: false,
        },
      });
      PANEL_DATA[i].forEach((data, s) => {
        series.push({
          type: 'line',
          name: SERIES_NAMES[s],
          xAxisIndex: i,
          yAxisIndex: i,
          data,
          symbol: 'none',
          showSymbol: false,
          connectNulls: false,
          silent: true,
          z: 2 + s,
          lineStyle: { color: SERIES_COLORS[s], width: SERIES_WIDTHS[s], cap: 'round', join: 'round' },
          itemStyle: { color: SERIES_COLORS[s] },
        });
      });

      // outer panel frame
      graphics.push({
        type: 'rect',
        shape: { x: 6, y: p.frameTop, width: 1200, height: p.frameBottom - p.frameTop },
        style: { fill: 'none', stroke: '#8c8c8c', lineWidth: 3 },
        z: 0,
      });
      // title
      graphics.push({
        type: 'text',
        x: 580,
        y: p.titleY,
        style: {
          text: TITLES[i],
          font: `bold 30.5px ${SERIF}`,
          fill: '#000',
          align: 'center',
          verticalAlign: 'middle',
          textAlign: 'center',
          textVerticalAlign: 'middle',
        },
        z: 10,
      });
      // legend box
      graphics.push({
        type: 'rect',
        shape: { x: GRID_LEFT - 1, y: p.boxTop, width: GRID_RIGHT - GRID_LEFT, height: p.boxBottom - p.boxTop },
        style: { fill: 'none', stroke: '#000', lineWidth: 2 },
        z: 10,
      });
      const legendPos = [
        { x1: 180, x2: 225, tx: 229, y: p.row1 },
        { x1: 681, x2: 729, tx: 734, y: p.row1 },
        { x1: 180, x2: 225, tx: 229, y: p.row2 },
        { x1: 681, x2: 729, tx: 734, y: p.row2 },
      ];
      legendPos.forEach((lp, s) => {
        graphics.push({
          type: 'line',
          shape: { x1: lp.x1, y1: lp.y, x2: lp.x2, y2: lp.y },
          style: { stroke: SERIES_COLORS[s], lineWidth: SERIES_WIDTHS[s] + 0.5, lineCap: 'round' },
          z: 10,
        });
        graphics.push({
          type: 'text',
          x: lp.tx,
          y: lp.y,
          style: {
            text: SERIES_NAMES[s],
            font: `18.7px ${SERIF}`,
            fill: '#000',
            align: 'left',
            verticalAlign: 'middle',
            textAlign: 'left',
            textVerticalAlign: 'middle',
          },
          z: 10,
        });
      });
    });

    chart.setOption({
      animation: false,
      backgroundColor: '#fff',
      grid: grids,
      xAxis: xAxes,
      yAxis: yAxes,
      series,
      graphic: { elements: graphics },
    });

    return () => chart.dispose();
  }, []);

  return (
    <div
      ref={ref}
      style={{ position: 'absolute', left: 0, top: 0, width: 1114, height: 1587, background: '#fff' }}
    />
  );
}
